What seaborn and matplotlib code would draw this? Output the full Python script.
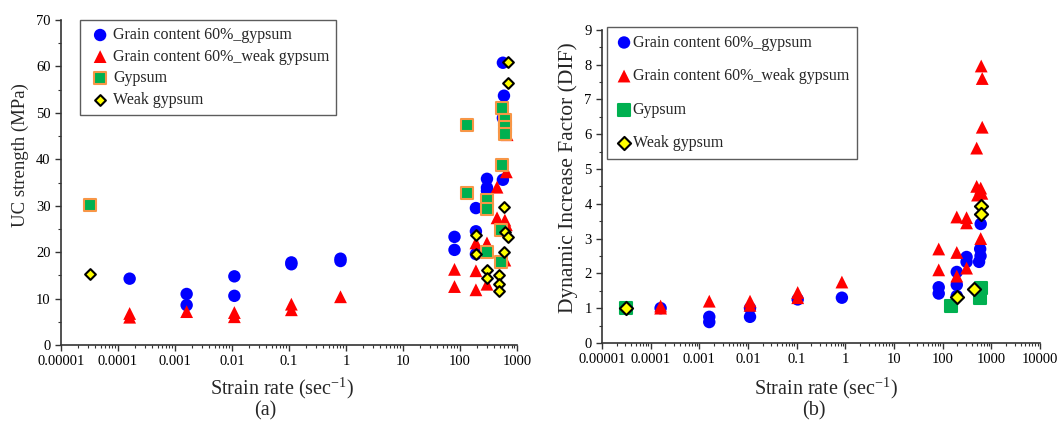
import matplotlib
matplotlib.use('Agg')
import matplotlib.pyplot as plt
import matplotlib.ticker as mticker
import seaborn as sns

# (a) UC strength (MPa)
gyp60_x_a = [1.6e-4, 1.6e-3, 1.6e-3, 0.011, 0.011, 0.11, 0.11, 0.8, 0.8, 80, 80,
             190, 190, 190, 297, 297, 297, 565, 565, 590, 565]
gyp60_y_a = [14.3, 11.0, 8.6, 14.8, 10.6, 17.4, 17.8, 18.6, 18.1, 23.3, 20.5,
             29.5, 24.5, 19.6, 35.8, 33.9, 33.2, 35.6, 48.9, 53.7, 60.8]
weak60_x_a = [1.6e-4, 1.6e-4, 1.6e-3, 0.011, 0.011, 0.11, 0.11, 0.8, 80, 80,
              190, 190, 190, 297, 297, 446, 446, 612, 650, 650, 612, 670]
weak60_y_a = [6.8, 6.0, 7.2, 7.0, 6.1, 8.8, 7.6, 10.4, 16.3, 12.6,
              22.0, 16.0, 11.9, 22.0, 13.1, 34.0, 27.4, 26.9, 25.9, 37.3, 18.3, 45.3]
gyp_x_a = [3.2e-5, 133, 133, 297, 297, 297, 545, 520, 520, 545, 612, 612, 612]
gyp_y_a = [30.1, 47.3, 32.7, 31.2, 29.3, 20.0, 38.8, 24.8, 17.9, 51.0, 48.5, 47.0, 45.5]
weak_x_a = [3.2e-5, 190, 190, 297, 297, 480, 480, 480, 590, 612, 690, 590, 690, 690]
weak_y_a = [15.3, 23.7, 19.6, 16.2, 14.4, 15.1, 13.1, 11.6, 29.7, 24.3, 23.3, 20.0, 61.0, 56.5]

# (b) Dynamic increase factor
gyp60_x_b = [1.6e-4, 1.6e-3, 1.6e-3, 0.011, 0.011, 0.105, 0.85, 83, 83,
             195, 195, 195, 310, 310, 605, 590, 600, 560]
gyp60_y_b = [1.0, 0.75, 0.6, 1.0, 0.75, 1.25, 1.3, 1.6, 1.42,
             2.04, 1.67, 1.35, 2.47, 2.33, 3.42, 2.7, 2.5, 2.33]
weak60_x_b = [1.6e-4, 1.6e-4, 1.6e-3, 0.011, 0.011, 0.105, 0.105, 0.85, 83, 83,
              195, 195, 195, 310, 310, 310, 620, 650, 650, 500, 500, 605, 640, 520, 605]
weak60_y_b = [1.06, 1.0, 1.2, 1.2, 1.08, 1.45, 1.3, 1.75, 2.7, 2.1,
              3.62, 2.6, 1.92, 3.6, 3.45, 2.15, 7.96, 7.6, 6.2, 5.6, 4.5, 4.45, 4.3, 4.25, 3.0]
gyp_x_b = [3.1e-5, 148, 605, 580]
gyp_y_b = [1.0, 1.05, 1.58, 1.28]
weak_x_b = [3.1e-5, 195, 440, 605, 605]
weak_y_b = [1.0, 1.33, 1.55, 3.95, 3.7]

labels = ['Grain content 60%_gypsum', 'Grain content 60%_weak gypsum', 'Gypsum', 'Weak gypsum']
xticks_a = [1e-5, 1e-4, 1e-3, 1e-2, 1e-1, 1, 10, 100, 1000]
xticks_b = xticks_a + [10000]
xticklabels_b = ['0.00001', '0.0001', '0.001', '0.01', '0.1', '1', '10', '100', '1000', '10000']

sns.set_style('white')
plt.rcParams['font.family'] = ['Liberation Serif', 'DejaVu Serif']
plt.rcParams['mathtext.fontset'] = 'custom'
plt.rcParams['mathtext.rm'] = 'Liberation Serif'

fig = plt.figure(figsize=(10.61, 4.26), dpi=100)
ax1 = fig.add_axes([0.0575, 0.190, 0.4298, 0.763])
ax2 = fig.add_axes([0.5674, 0.195, 0.4128, 0.735])


def draw(ax, series, gyp_edge, weak_size, legend_kw):
    (bx, by), (rx, ry), (gx, gy), (wx, wy) = series
    sns.scatterplot(x=bx, y=by, ax=ax, color='#0000FF', marker='o', s=80,
                    edgecolor='none', label=labels[0])
    sns.scatterplot(x=rx, y=ry, ax=ax, color='#FF0000', marker='^', s=85,
                    edgecolor='none', label=labels[1])
    sns.scatterplot(x=gx, y=gy, ax=ax, color='#00B050', marker='s', s=70,
                    edgecolor=gyp_edge, linewidth=1.5, label=labels[2])
    sns.scatterplot(x=wx, y=wy, ax=ax, color='#FFFF00', marker='D', s=weak_size,
                    edgecolor='black', linewidth=1.5, label=labels[3])
    ax.set_xscale('log')
    ax.xaxis.set_minor_locator(mticker.LogLocator(base=10, subs=range(2, 10), numticks=20))
    ax.xaxis.set_minor_formatter(mticker.NullFormatter())
    for s in ['top', 'right']:
        ax.spines[s].set_visible(False)
    for s in ['left', 'bottom']:
        ax.spines[s].set_color('#333333')
        ax.spines[s].set_linewidth(1.2)
    ax.tick_params(which='major', direction='out', length=4, width=1, colors='#333333',
                   labelsize=10.5, labelcolor='black', left=True, bottom=True)
    ax.tick_params(which='minor', direction='out', length=2.5, width=0.8, colors='#333333',
                   left=True, bottom=True)
    leg = ax.legend(loc='upper left', frameon=True, fancybox=False, fontsize=11.5,
                    handletextpad=0.0, borderaxespad=0, **legend_kw)
    leg.get_frame().set_edgecolor('#333333')
    leg.get_frame().set_linewidth(1.0)


draw(ax1, [(gyp60_x_a, gyp60_y_a), (weak60_x_a, weak60_y_a), (gyp_x_a, gyp_y_a), (weak_x_a, weak_y_a)],
     '#F79646', 30, dict(labelspacing=0.35, borderpad=0.45, handlelength=1.6,
                         bbox_to_anchor=(0.042, 1.0)))
ax1.set_xlim(1e-5, 1000)
ax1.set_ylim(0, 70)
ax1.set_xticks(xticks_a)
ax1.set_xticklabels(xticklabels_b[:9])
ax1.set_yticks(range(0, 71, 10))
ax1.yaxis.set_minor_locator(mticker.MultipleLocator(5))
ax1.set_ylabel('UC strength (MPa)', fontsize=13.5)
ax1.yaxis.set_label_coords(-0.07, 0.585)

draw(ax2, [(gyp60_x_b, gyp60_y_b), (weak60_x_b, weak60_y_b), (gyp_x_b, gyp_y_b), (weak_x_b, weak_y_b)],
     '#00B050', 45, dict(labelspacing=1.1, borderpad=0.5, handlelength=1.1,
                         bbox_to_anchor=(0.012, 1.01)))
ax2.set_xlim(1e-5, 10000)
ax2.set_ylim(0, 9)
ax2.set_xticks(xticks_b)
ax2.set_xticklabels(xticklabels_b)
ax2.set_yticks(range(0, 10))
ax2.yaxis.set_minor_locator(mticker.MultipleLocator(0.5))
ax2.set_ylabel('Dynamic Increase Factor (DIF)', fontsize=15.5)
ax2.yaxis.set_label_coords(-0.055, 0.527)

for cx, tag, tx in [(0.266, '(a)', 0.250), (0.779, '(b)', 0.767)]:
    fig.text(cx, 0.090, r'Strain rate (sec$^{\mathregular{-1}}$)', ha='center', va='center', fontsize=14.5)
    fig.text(tx, 0.035, tag, ha='center', va='center', fontsize=14.5)

fig.savefig('out.png', dpi=100)
